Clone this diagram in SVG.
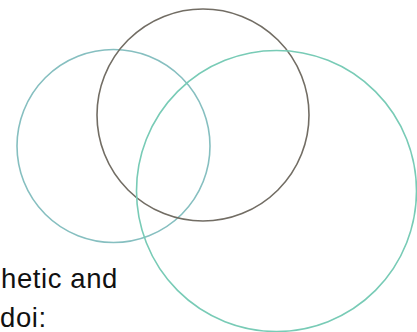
<svg xmlns="http://www.w3.org/2000/svg" width="417" height="332" viewBox="0 0 417 332">
<style>
.c{fill:none;stroke-width:1.6}
.t{font-family:"Liberation Sans",Arial,sans-serif;font-size:27.5px;letter-spacing:0.6px;fill:#111}
</style>
<rect width="417" height="332" fill="#fff"/>
<g id="left-circle"><circle class="c" cx="113.5" cy="146" r="96.5" stroke="#86bfc0"/></g>
<g id="top-circle"><circle class="c" cx="203" cy="115" r="106" stroke="#726d64"/></g>
<g id="right-circle"><ellipse class="c" cx="276.5" cy="191" rx="140" ry="140.5" stroke="#78cbb6"/></g>
<g id="labels">
<text class="t" x="1" y="288">hetic and</text>
<text class="t" x="0" y="327">doi:</text>
</g>
</svg>
